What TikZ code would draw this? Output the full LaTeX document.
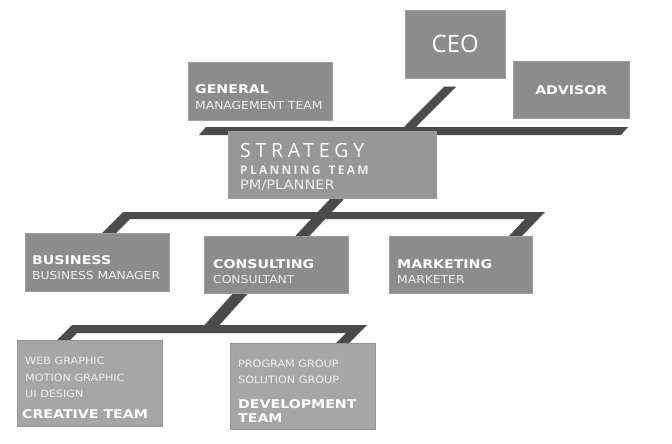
\documentclass[tikz,border=0pt]{standalone}
\usepackage{fontspec}
\usetikzlibrary{backgrounds}
\newfontfamily\pixfont[FakeStretch=1.12]{DejaVu Sans}
\newfontfamily\pixbold[FakeStretch=1.18]{DejaVu Sans Bold}
\newfontfamily\opensans{Open Sans}
\newfontfamily\stratfont[LetterSpace=24]{Open Sans}
\newfontfamily\planfont[LetterSpace=19]{Open Sans Bold}
\definecolor{boxfill}{HTML}{8C8C8C}
\definecolor{boxline}{HTML}{9E9E9E}
\definecolor{stratfill}{HTML}{979797}
\definecolor{lowfill}{HTML}{A6A6A6}
\definecolor{lowline}{HTML}{949494}
\definecolor{barfill}{HTML}{4B4B4B}
\definecolor{subtext}{HTML}{EDEDED}
\tikzset{
	box/.style={draw=boxline, fill=boxfill, line width=0.6pt, anchor=north west, inner sep=0pt, text=white},
	lowbox/.style={box, draw=lowline, fill=lowfill},
	head/.style={anchor=base west, inner sep=0pt, text=white, font=\pixbold\fontsize{12}{12}\selectfont},
	sub/.style={anchor=base west, inner sep=0pt, text=subtext, font=\pixfont\fontsize{11}{11}\selectfont},
	small/.style={sub, font=\pixfont\fontsize{10}{10}\selectfont}
}
\newcommand\slab[3][6]{\fill[barfill] ([xshift=-#1pt]#2) -- ([xshift=#1pt]#2) -- ([xshift=#1pt]#3) -- ([xshift=-#1pt]#3) -- cycle;}
\begin{document}
\begin{tikzpicture}[x=1pt, y=-1pt]
	\useasboundingbox (0,0) rectangle (672,444);
	\node[box, minimum width=100pt, minimum height=68pt, font=\opensans\fontsize{24}{24}\selectfont] (ceo) at (405,10) {CEO};
	\node[box, minimum width=144pt, minimum height=58pt] (general) at (188,62) {};
	\node[box, minimum width=116pt, minimum height=57pt, font=\pixbold\fontsize{12}{12}\selectfont] (advisor) at (513,61) {ADVISOR};
	\node[box, fill=stratfill, minimum width=208pt, minimum height=67pt] (strategy) at (228,131) {};
	\node[box, minimum width=144pt, minimum height=58pt] (business) at (25,233) {};
	\node[box, minimum width=144pt, minimum height=57pt] (consulting) at (204,236) {};
	\node[box, minimum width=143pt, minimum height=57pt] (marketing) at (389,236) {};
	\node[lowbox, minimum width=145pt, minimum height=86pt] (creative) at (17,340) {};
	\node[lowbox, minimum width=145pt, minimum height=86pt] (development) at (230,343) {};

	\node[head] (general-h) at ([shift={(7,31)}]general.north west) {GENERAL};
	\node[sub] (general-s) at ([shift={(7,48)}]general.north west) {MANAGEMENT TEAM};
	\node[anchor=base west, inner sep=0pt, text=white, font=\stratfont\fontsize{19.5}{19.5}\selectfont] (strategy-h) at ([shift={(12,26)}]strategy.north west) {STRATEGY};
	\node[anchor=base west, inner sep=0pt, text=subtext, font=\planfont\fontsize{12}{12}\selectfont] (strategy-p) at ([shift={(12,43)}]strategy.north west) {\mbox{PLANNING}\kern8pt\mbox{TEAM}};
	\node[sub, font=\pixfont\fontsize{13}{13}\selectfont] (strategy-s) at ([shift={(12,58)}]strategy.north west) {PM/PLANNER};
	\node[head] (business-h) at ([shift={(7,31)}]business.north west) {BUSINESS};
	\node[sub] (business-s) at ([shift={(7,46)}]business.north west) {BUSINESS MANAGER};
	\node[head] (consulting-h) at ([shift={(9,32)}]consulting.north west) {CONSULTING};
	\node[sub] (consulting-s) at ([shift={(9,47)}]consulting.north west) {CONSULTANT};
	\node[head] (marketing-h) at ([shift={(8,32)}]marketing.north west) {MARKETING};
	\node[sub] (marketing-s) at ([shift={(8,47)}]marketing.north west) {MARKETER};
	\node[small] (creative-a) at ([shift={(8,24)}]creative.north west) {WEB GRAPHIC};
	\node[small] (creative-b) at ([shift={(8,41)}]creative.north west) {MOTION GRAPHIC};
	\node[small] (creative-c) at ([shift={(8,57)}]creative.north west) {UI DESIGN};
	\node[head] (creative-h) at ([shift={(5,78)}]creative.north west) {CREATIVE TEAM};
	\node[small] (development-a) at ([shift={(8,24)}]development.north west) {PROGRAM GROUP};
	\node[small] (development-b) at ([shift={(8,40)}]development.north west) {SOLUTION GROUP};
	\node[head] (development-h) at ([shift={(8,65)}]development.north west) {DEVELOPMENT};
	\node[head] (development-t) at ([shift={(8,79)}]development.north west) {TEAM};

	\coordinate (ceo-drop) at ([shift={(-5,8)}]ceo.south);
	\coordinate (top-join) at (410,127);
	\coordinate (strategy-drop) at ([shift={(5,0)}]strategy.south);
	\coordinate (consulting-top) at ([shift={(26,0)}]consulting.north);
	\coordinate (consulting-drop) at ([shift={(-36,0)}]consulting.south);
	\coordinate (low-join) at (212,325);
	\begin{scope}[on background layer]
		\fill[barfill] (199,135) -- (206,127) -- (628,127) -- (621,135) -- cycle;
		\fill[barfill] (business.north -| 102,0) -- (123,212) -- (545,212) -- (522,236) -- (509,236) -- (525,219) -- (130,219) -- (business.north -| 116,0) -- cycle;
		\fill[barfill] (creative.north -| 57,0) -- (72,325) -- (367,325) -- (349,343) -- (336,343) -- (346,333) -- (77,333) -- (creative.north -| 70,0) -- cycle;
		\slab{ceo-drop}{top-join}
		\slab[7]{strategy-drop}{consulting-top}
		\slab[7.5]{consulting-drop}{low-join}
	\end{scope}
\end{tikzpicture}
\end{document}
